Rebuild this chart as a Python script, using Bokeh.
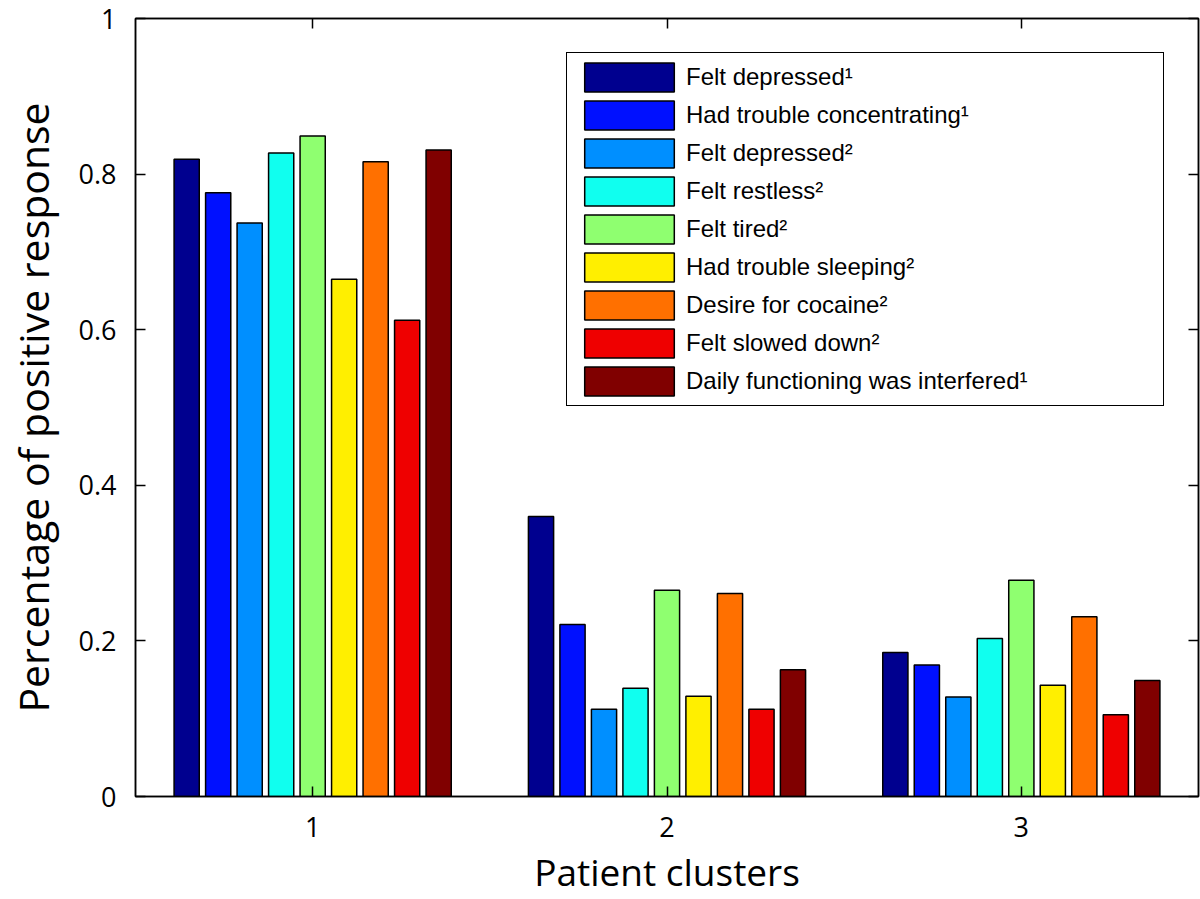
from bokeh.plotting import figure
from bokeh.models import (ColumnDataSource, FixedTicker, LinearAxis, Legend, LegendItem,
                          Range1d)
from bokeh.embed import file_html
from bokeh.resources import INLINE

# ---- data ----
clusters = [1, 2, 3]
series_names = [
    "Felt depressed\u00b9",
    "Had trouble concentrating\u00b9",
    "Felt depressed\u00b2",
    "Felt restless\u00b2",
    "Felt tired\u00b2",
    "Had trouble sleeping\u00b2",
    "Desire for cocaine\u00b2",
    "Felt slowed down\u00b2",
    "Daily functioning was interfered\u00b9",
]
felt_depressed_1 = [0.819, 0.360, 0.185]
trouble_concentrating_1 = [0.776, 0.221, 0.169]
felt_depressed_2 = [0.737, 0.112, 0.128]
felt_restless_2 = [0.827, 0.139, 0.203]
felt_tired_2 = [0.849, 0.265, 0.278]
trouble_sleeping_2 = [0.665, 0.129, 0.143]
desire_cocaine_2 = [0.816, 0.261, 0.231]
felt_slowed_2 = [0.612, 0.112, 0.105]
daily_functioning_1 = [0.831, 0.163, 0.149]
series_values = [felt_depressed_1, trouble_concentrating_1, felt_depressed_2,
                 felt_restless_2, felt_tired_2, trouble_sleeping_2,
                 desire_cocaine_2, felt_slowed_2, daily_functioning_1]
colors = ["#00008F", "#0010FF", "#008FFF", "#10FFEF", "#8FFF70",
          "#FFEF00", "#FF7000", "#EF0000", "#800000"]
y_ticks = [0, 0.2, 0.4, 0.6, 0.8, 1]
y_tick_labels = ["0", "0.2", "0.4", "0.6", "0.8", "1"]
x_title = "Patient clusters"
y_title = "Percentage of positive response"

AX_FONT = "Open Sans"
LEG_FONT = "Liberation Sans"

p = figure(width=1200, height=899, output_backend="svg", toolbar_location=None,
           x_range=Range1d(0.5, 3.5), y_range=Range1d(0, 1),
           min_border_left=135, min_border_right=2, min_border_top=18,
           min_border_bottom=102)
p.xgrid.visible = False
p.ygrid.visible = False
p.outline_line_color = "black"
p.outline_line_width = 1.5
p.outline_line_alpha = 1.0

n = len(series_values)
group_width = 0.8
pitch = group_width / n
bar_w = pitch * 0.8

renderers = []
for i, (vals, col) in enumerate(zip(series_values, colors)):
    xs = [c + (i - (n - 1) / 2) * pitch for c in clusters]
    src = ColumnDataSource(dict(x=xs, top=vals))
    r = p.vbar(x="x", top="top", width=bar_w, bottom=0, source=src,
               fill_color=col, line_color="black", line_width=1.5)
    renderers.append(r)

yt = FixedTicker(ticks=y_ticks)
xt = FixedTicker(ticks=clusters)

yax = p.yaxis[0]
yax.ticker = yt
yax.major_label_overrides = {t: s for t, s in zip(y_ticks, y_tick_labels)}
xax = p.xaxis[0]
xax.ticker = xt

for ax in (xax, yax):
    ax.major_tick_in = 10
    ax.major_tick_out = 0
    ax.minor_tick_in = 0
    ax.minor_tick_out = 0
    ax.axis_line_width = 1.5
    ax.major_tick_line_width = 1.5
    ax.major_label_text_font = AX_FONT
    ax.major_label_text_font_size = "27px"
    ax.major_label_text_color = "black"
    ax.axis_label_text_font = AX_FONT
    ax.axis_label_text_font_style = "normal"
    ax.axis_label_text_color = "black"

yax.major_label_standoff = 19
yax.axis_label = y_title
yax.axis_label_text_font_size = "41px"
yax.axis_label_standoff = 15

xax.major_label_standoff = 20
xax.axis_label = x_title
xax.axis_label_text_font_size = "37px"
xax.axis_label_standoff = 6

# mirrored axes: ticks only
rax = LinearAxis(ticker=yt, major_label_overrides={t: "" for t in y_ticks},
                 major_label_standoff=0, major_label_text_font_size="1px",
                 major_tick_in=10, major_tick_out=0, minor_tick_in=0, minor_tick_out=0,
                 axis_line_width=1.5, major_tick_line_width=1.5)
tax = LinearAxis(ticker=xt, major_label_overrides={t: "" for t in clusters},
                 major_label_standoff=0, major_label_text_font_size="1px",
                 major_tick_in=10, major_tick_out=0, minor_tick_in=0, minor_tick_out=0,
                 axis_line_width=1.5, major_tick_line_width=1.5)
p.add_layout(rax, "right")
p.add_layout(tax, "above")

legend = Legend(items=[LegendItem(label=nm, renderers=[r]) for nm, r in zip(series_names, renderers)],
                location="top_right", margin=34, padding=6, spacing=2,
                glyph_width=112, glyph_height=36, label_standoff=1, label_width=471,
                label_text_font=LEG_FONT, label_text_font_size="24px",
                label_text_color="black",
                border_line_color="black", border_line_width=1.5, border_line_alpha=1.0,
                background_fill_color="white", background_fill_alpha=1.0)
p.add_layout(legend, "center")

open("out.html", "w").write(file_html(p, INLINE))
